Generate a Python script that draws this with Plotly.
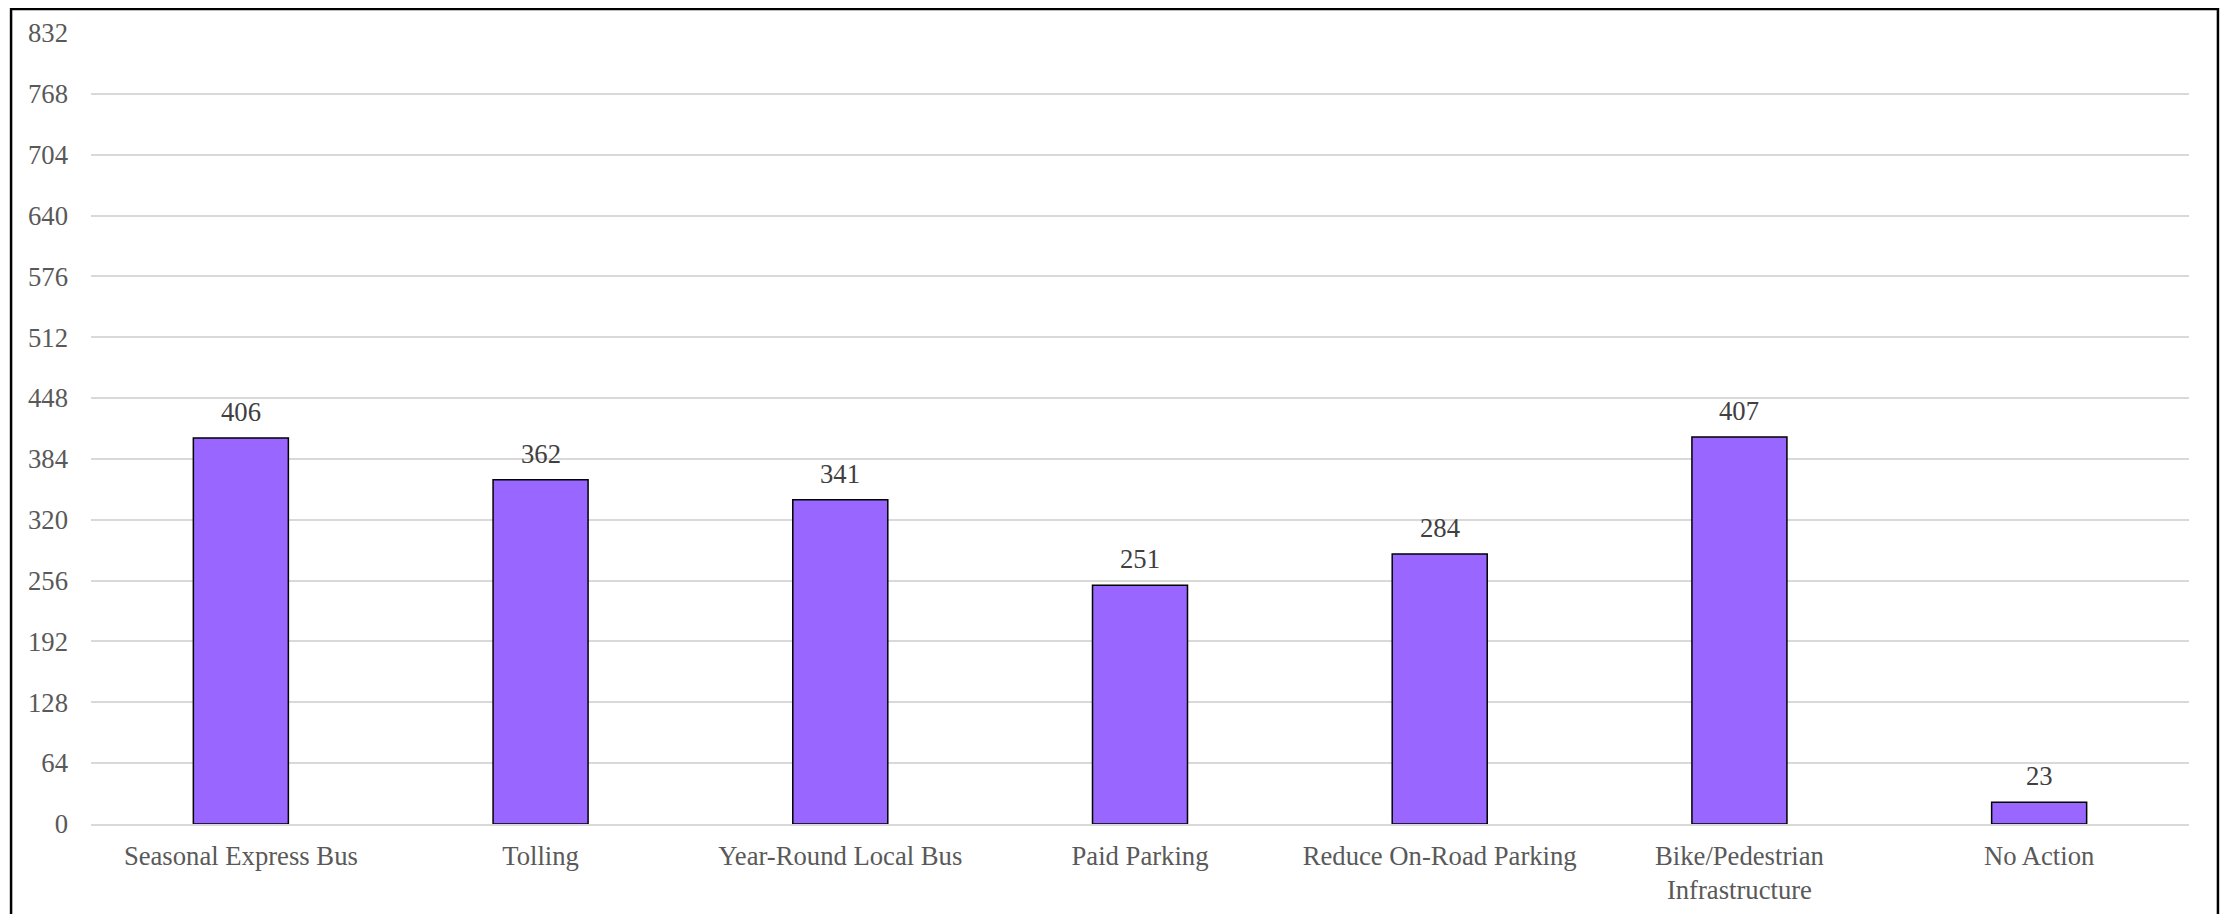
import plotly.graph_objects as go

categories = ["Seasonal Express Bus", "Tolling", "Year-Round Local Bus", "Paid Parking",
              "Reduce On-Road Parking", "Bike/Pedestrian<br>Infrastructure", "No Action"]
values = [406, 362, 341, 251, 284, 407, 23]
y_ticks = [0, 64, 128, 192, 256, 320, 384, 448, 512, 576, 640, 704, 768, 832]

FONT = "Liberation Serif, Times New Roman, serif"
FS = 26.67

fig = go.Figure()
fig.add_trace(go.Bar(
    x=categories, y=values,
    marker=dict(color="#9966FF", line=dict(color="#000000", width=1.5)),
    width=0.317,
    hoverinfo="skip",
))

for c, v in zip(categories, values):
    fig.add_annotation(x=c, y=v, text=str(v), showarrow=False, yanchor="bottom",
                       yshift=9, font=dict(family=FONT, size=FS, color="#404040"))

fig.update_layout(
    width=2218, height=906,
    margin=dict(l=83, r=37, t=25, b=90),
    paper_bgcolor="white", plot_bgcolor="white",
    showlegend=False,
    font=dict(family=FONT, color="#595959", size=FS),
    xaxis=dict(showgrid=False, showline=True, linecolor="#d9d9d9", linewidth=1.5,
               ticks="", ticklabelstandoff=7, automargin=False,
               tickfont=dict(family=FONT, size=FS, color="#595959")),
    yaxis=dict(range=[0, 832], tickvals=y_ticks, showgrid=True, gridcolor="#d9d9d9",
               gridwidth=1.5, zeroline=False, showline=False, ticks="",
               ticklabelstandoff=22, automargin=False,
               tickfont=dict(family=FONT, size=FS, color="#595959")),
    shapes=[dict(type="rect", xref="paper", yref="paper",
                 x0=-0.0381, x1=1.0138, y0=-0.2, y1=1.0303,
                 line=dict(color="#000000", width=2.5), fillcolor="rgba(0,0,0,0)", layer="above")],
)

fig.write_html("out.html")
